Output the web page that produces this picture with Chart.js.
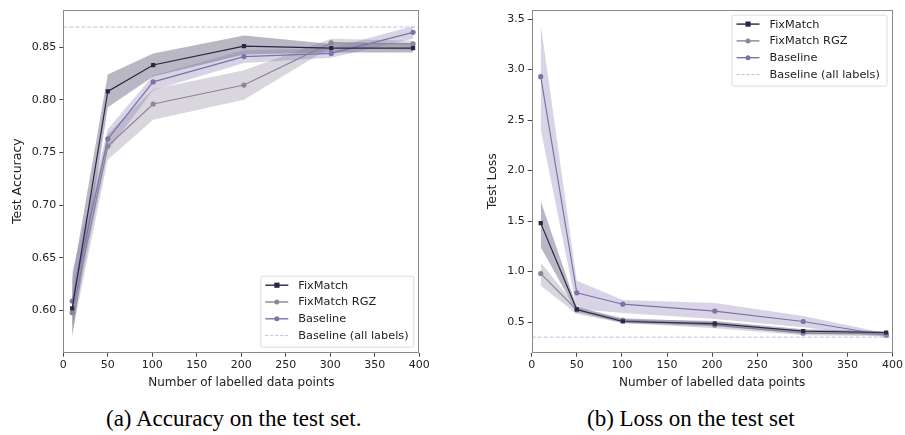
<!DOCTYPE html>
<html>
<head>
<meta charset="utf-8">
<script src="https://cdn.jsdelivr.net/npm/chart.js@4.4.1/dist/chart.umd.min.js"></script>
<style>
  html, body { margin: 0; padding: 0; background: #fff; }
  body { width: 905px; height: 435px; position: relative; overflow: hidden; }
  .cv { position: absolute; top: 0; }
  .cap { position: absolute; font-family: 'Liberation Serif', 'Times New Roman', serif; font-size: 23px; color: #000; white-space: nowrap; top: 406px; line-height: 26px; }
</style>
</head>
<body>
<div class="cv" style="left:0;width:450px;height:400px;"><canvas id="accChart"></canvas></div>
<div class="cv" style="left:450px;width:455px;height:400px;"><canvas id="lossChart"></canvas></div>
<div class="cap" id="capA" style="left:106px;">(a) Accuracy on the test set.</div>
<div class="cap" id="capB" style="left:587px;">(b) Loss on the test set</div>
<script>
// ---------- data ----------
const xPoints = [10, 50, 101, 203, 301, 393];
const seriesNames = ['FixMatch', 'FixMatch RGZ', 'Baseline', 'Baseline (all labels)'];

const accFixMatch   = [0.602, 0.808, 0.833, 0.851, 0.849, 0.849];
const accFixMatchLo = [0.575, 0.793, 0.822, 0.843, 0.845, 0.845];
const accFixMatchHi = [0.630, 0.824, 0.844, 0.861, 0.853, 0.853];
const accRGZ        = [0.598, 0.756, 0.796, 0.814, 0.854, 0.853];
const accRGZLo      = [0.578, 0.743, 0.781, 0.800, 0.850, 0.847];
const accRGZHi      = [0.620, 0.768, 0.810, 0.828, 0.858, 0.856];
const accBase       = [0.609, 0.763, 0.817, 0.841, 0.844, 0.864];
const accBaseLo     = [0.585, 0.752, 0.809, 0.835, 0.840, 0.858];
const accBaseHi     = [0.637, 0.772, 0.823, 0.847, 0.849, 0.870];
const accBaseAll    = 0.869;

const lossFixMatch   = [1.48, 0.625, 0.506, 0.484, 0.410, 0.397];
const lossFixMatchLo = [1.24, 0.600, 0.490, 0.460, 0.390, 0.380];
const lossFixMatchHi = [1.70, 0.650, 0.530, 0.510, 0.430, 0.410];
const lossRGZ        = [0.98, 0.620, 0.520, 0.470, 0.390, 0.380];
const lossRGZLo      = [0.86, 0.580, 0.490, 0.440, 0.370, 0.360];
const lossRGZHi      = [1.09, 0.650, 0.540, 0.500, 0.410, 0.400];
const lossBase       = [2.93, 0.790, 0.677, 0.609, 0.506, 0.370];
const lossBaseLo     = [2.41, 0.630, 0.590, 0.530, 0.450, 0.350];
const lossBaseHi     = [3.45, 0.910, 0.720, 0.690, 0.560, 0.390];
const lossBaseAll    = 0.351;

const xTicks = [0, 50, 100, 150, 200, 250, 300, 350, 400];
const accTicks = [0.60, 0.65, 0.70, 0.75, 0.80, 0.85];
const accTickLabels = ['0.60', '0.65', '0.70', '0.75', '0.80', '0.85'];
const lossTicks = [0.5, 1.0, 1.5, 2.0, 2.5, 3.0, 3.5];
const lossTickLabels = ['0.5', '1.0', '1.5', '2.0', '2.5', '3.0', '3.5'];

// ---------- styles ----------
const C_FM = '#2b2548', C_RGZ = '#8a8598', C_BASE = '#7e72a8', C_DASH = '#c3bbdf';
const B_FM = 'rgba(43,37,72,0.33)', B_RGZ = 'rgba(128,122,143,0.30)', B_BASE = 'rgba(126,114,168,0.30)';

Chart.defaults.font.family = "'DejaVu Sans', sans-serif";
Chart.defaults.color = '#222';

const pts = arr => xPoints.map((x, i) => ({ x, y: arr[i] }));

function buildDatasets(fm, fmLo, fmHi, rgz, rgzLo, rgzHi, base, baseLo, baseHi, all) {
  const band = (lo, hi, col, ord) => [
    { data: pts(lo), borderWidth: 0, pointRadius: 0, fill: false, order: ord, showLine: true },
    { data: pts(hi), borderWidth: 0, pointRadius: 0, fill: '-1', backgroundColor: col, order: ord, showLine: true }
  ];
  const line = (d, col, style, r, ord) => ({
    data: pts(d), borderColor: col, backgroundColor: col, borderWidth: 1.2,
    pointStyle: style, pointRadius: r, pointBorderWidth: 0, fill: false, order: ord
  });
  return [
    ...band(fmLo, fmHi, B_FM, 10),
    ...band(rgzLo, rgzHi, B_RGZ, 9),
    ...band(baseLo, baseHi, B_BASE, 8),
    line(fm, C_FM, 'rect', 3, 1),
    line(rgz, C_RGZ, 'circle', 2.6, 2),
    line(base, C_BASE, 'circle', 2.6, 3),
    { data: [{ x: 0, y: all }, { x: 400, y: all }], borderColor: C_DASH, borderWidth: 1,
      borderDash: [4, 2], pointRadius: 0, fill: false, order: 4 }
  ];
}

const legendItems = [
  { label: seriesNames[0], color: C_FM, marker: 'rect', dash: false },
  { label: seriesNames[1], color: C_RGZ, marker: 'circle', dash: false },
  { label: seriesNames[2], color: C_BASE, marker: 'circle', dash: false },
  { label: seriesNames[3], color: C_DASH, marker: null, dash: true }
];

const framePlugin = {
  id: 'frame',
  afterDraw(chart, args, opts) {
    const { ctx, chartArea: a } = chart;
    ctx.save();
    ctx.strokeStyle = '#8a8a8a';
    ctx.lineWidth = 1;
    ctx.strokeRect(Math.round(a.left) + 0.5, Math.round(a.top) + 0.5,
                   Math.round(a.right - a.left) - 1, Math.round(a.bottom - a.top) - 1);
    // legend
    const w = opts.w, h = 71, rowH = 16.8;
    const bx = a.right - 6 - w;
    const by = opts.pos === 'br' ? a.bottom - 6 - h : a.top + 5;
    ctx.fillStyle = 'rgba(255,255,255,0.85)';
    ctx.strokeStyle = '#dcdcdc';
    ctx.beginPath();
    ctx.roundRect(bx + 0.5, by + 0.5, w, h, 2);
    ctx.fill(); ctx.stroke();
    ctx.font = "11.3px 'DejaVu Sans'";
    ctx.textBaseline = 'middle';
    legendItems.forEach((it, i) => {
      const y = by + 9.5 + i * rowH;
      const lx = bx + 5;
      ctx.strokeStyle = it.color;
      ctx.lineWidth = it.dash ? 1 : 1.4;
      ctx.setLineDash(it.dash ? [3, 2] : []);
      ctx.beginPath(); ctx.moveTo(lx, y); ctx.lineTo(lx + 23, y); ctx.stroke();
      ctx.setLineDash([]);
      ctx.fillStyle = it.color;
      if (it.marker === 'rect') ctx.fillRect(lx + 9, y - 2.6, 5.2, 5.2);
      else if (it.marker === 'circle') { ctx.beginPath(); ctx.arc(lx + 11.5, y, 2.5, 0, Math.PI * 2); ctx.fill(); }
      ctx.fillStyle = '#222';
      ctx.fillText(it.label, lx + 33, y + 0.5);
    });
    ctx.restore();
  }
};

function makeChart(id, datasets, yMin, yMax, yTicks, yLabels, yTitle, yAxisW, yTitlePad, rightPad, topPad, legendPos, legendW) {
  return new Chart(document.getElementById(id), {
    type: 'scatter',
    data: { datasets },
    plugins: [framePlugin],
    options: {
      responsive: true, maintainAspectRatio: false, animation: false,
      datasets: { scatter: { showLine: true } },
      layout: { padding: { left: 0, right: rightPad, top: topPad, bottom: 0 } },
      plugins: { legend: { display: false }, tooltip: { enabled: false },
                 frame: { pos: legendPos, w: legendW } },
      scales: {
        x: {
          type: 'linear', min: 0, max: 400,
          afterBuildTicks: s => { s.ticks = xTicks.map(v => ({ value: v })); },
          afterFit: s => { s.height = 47.3; },
          ticks: { font: { size: 11 }, color: '#222', padding: 2, maxRotation: 0 },
          grid: { drawOnChartArea: false, drawTicks: true, tickLength: 4, color: '#444' },
          border: { display: false },
          title: { display: true, text: 'Number of labelled data points', font: { size: 12 }, color: '#222',
                   padding: { top: 4, bottom: 10 } }
        },
        y: {
          type: 'linear', min: yMin, max: yMax,
          afterBuildTicks: s => { s.ticks = yTicks.map(v => ({ value: v })); },
          afterFit: s => { s.width = yAxisW; },
          ticks: { font: { size: 11 }, color: '#222', padding: 3,
                   callback: (v) => { const i = yTicks.findIndex(t => Math.abs(t - v) < 1e-9); return i >= 0 ? yLabels[i] : ''; } },
          grid: { drawOnChartArea: false, drawTicks: true, tickLength: 4, color: '#444' },
          border: { display: false },
          title: { display: true, text: yTitle, font: { size: 12.5 }, color: '#222',
                   padding: { top: yTitlePad, bottom: 4 } }
        }
      }
    }
  });
}

makeChart('accChart',
  buildDatasets(accFixMatch, accFixMatchLo, accFixMatchHi, accRGZ, accRGZLo, accRGZHi, accBase, accBaseLo, accBaseHi, accBaseAll),
  0.560, 0.8856, accTicks, accTickLabels, 'Test Accuracy', 63.3, 10, 30.7, 6, 'br', 153);

makeChart('lossChart',
  buildDatasets(lossFixMatch, lossFixMatchLo, lossFixMatchHi, lossRGZ, lossRGZLo, lossRGZHi, lossBase, lossBaseLo, lossBaseHi, lossBaseAll),
  0.197, 3.594, lossTicks, lossTickLabels, 'Test Loss', 81.7, 35, 10.7, 1, 'tr', 155);
</script>
</body>
</html>
